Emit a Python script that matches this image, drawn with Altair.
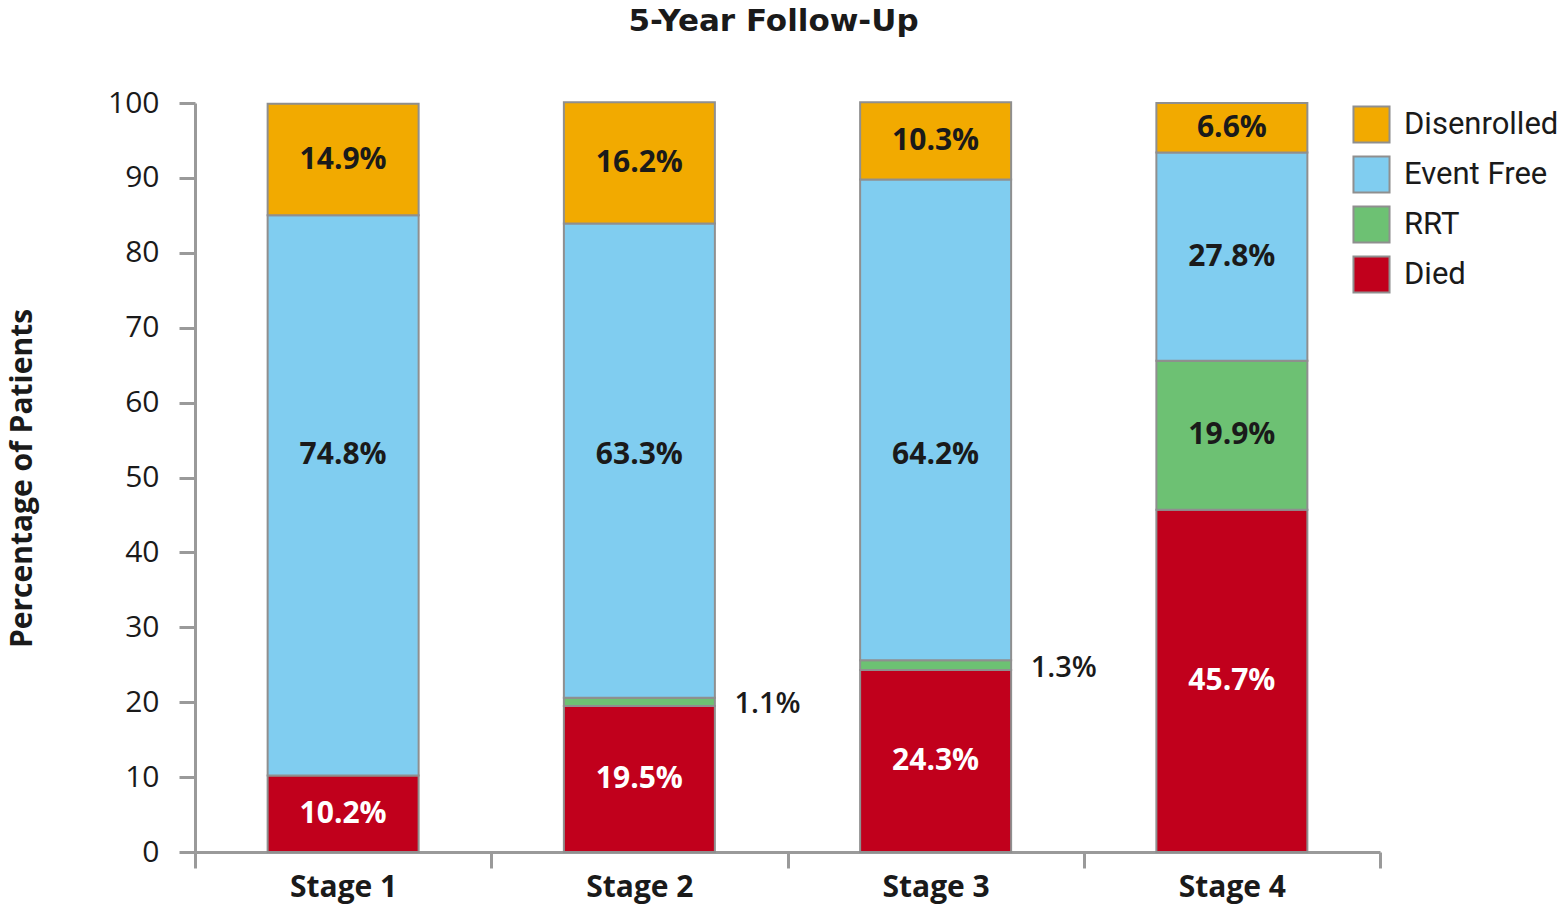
import altair as alt
import pandas as pd

# Stacked outcome shares per CKD stage at 5 years
stages = ["Stage 1", "Stage 2", "Stage 3", "Stage 4"]
outcomes = ["Disenrolled", "Event Free", "RRT", "Died"]
colors = ["#F2AA00", "#80CDF0", "#6DC173", "#C1001C"]

died = [10.2, 19.5, 24.3, 45.7]
rrt = [0.0, 1.1, 1.3, 19.9]
event_free = [74.8, 63.3, 64.2, 27.8]
disenrolled = [14.9, 16.2, 10.3, 6.6]

FONT = "Open Sans"
EVENT_FREE_LABEL_Y = 53  # tall event-free segments share a common label height

rows = []
for i, stage in enumerate(stages):
    base = 0.0
    for name, vals in [("Died", died), ("RRT", rrt), ("Event Free", event_free), ("Disenrolled", disenrolled)]:
        v = vals[i]
        if v <= 0:
            continue
        mid = base + v / 2
        if name == "Event Free" and base < EVENT_FREE_LABEL_Y < base + v:
            mid = EVENT_FREE_LABEL_Y
        rows.append({
            "stage": stage, "outcome": name, "value": v,
            "start": base, "end": base + v, "mid": mid,
            "label": f"{v:.1f}%", "small": v < 5,
            "light": name == "Died",
        })
        base += v
df = pd.DataFrame(rows)

x_enc = alt.X(
    "stage:N", sort=stages, title=None,
    scale=alt.Scale(paddingInner=0, paddingOuter=0),
    axis=alt.Axis(
        labelAngle=0, labelFont=FONT, labelFontSize=30, labelFontWeight="bold",
        labelColor="#1a1a1a", labelPadding=4, tickBand="extent", tickSize=16,
        tickColor="#9a9a9a", tickWidth=3, domainColor="#9a9a9a", domainWidth=3,
    ),
)

bars = alt.Chart(df).mark_bar(size=151, stroke="#8f8f8f", strokeWidth=2).encode(
    x=x_enc,
    y=alt.Y(
        "start:Q", scale=alt.Scale(domain=[0, 100], nice=False),
        title="Percentage of Patients",
        axis=alt.Axis(
            values=list(range(0, 101, 10)), grid=False,
            labelFont=FONT, labelFontSize=30, labelColor="#1a1a1a", labelPadding=20,
            tickSize=16, tickColor="#9a9a9a", tickWidth=3,
            domainColor="#9a9a9a", domainWidth=3,
            titleFont=FONT, titleFontSize=30, titleFontWeight="bold", titleColor="#1a1a1a",
            titleX=-173, titleY=375, titleAngle=270, titleAlign="center", titleBaseline="middle",
        ),
    ),
    y2="end:Q",
    color=alt.Color(
        "outcome:N",
        scale=alt.Scale(domain=outcomes, range=colors),
        legend=alt.Legend(
            title=None, orient="none", legendX=1157, legendY=2,
            symbolType="square", symbolSize=1300, symbolStrokeColor="#8f8f8f",
            symbolStrokeWidth=2, labelFont="Roboto", labelFontSize=31, labelColor="#1a1a1a",
            labelLimit=0, rowPadding=5, labelOffset=13,
        ),
    ),
)

inside = alt.Chart(df).transform_filter("!datum.small").mark_text(
    font=FONT, fontSize=30, fontWeight="bold", baseline="middle"
).encode(
    x=alt.X("stage:N", sort=stages),
    y=alt.Y("mid:Q"),
    text="label:N",
    color=alt.condition("datum.light", alt.value("white"), alt.value("#1a1a1a")),
)

outside = alt.Chart(df).transform_filter("datum.small").mark_text(
    font=FONT, fontSize=29, fontWeight=600, align="left", baseline="middle", dx=95, dy=-2,
    color="#1a1a1a",
).encode(
    x=alt.X("stage:N", sort=stages),
    y=alt.Y("start:Q"),
    text="label:N",
)

chart = alt.layer(bars, inside, outside).properties(
    width=1185, height=749,
    autosize=alt.AutoSizeParams(type="none"),
    padding={"left": 195, "top": 103, "right": 180, "bottom": 54},
    title=alt.TitleParams(
        "5-Year Follow-Up", font="DejaVu Sans", fontSize=31, fontWeight="bold",
        color="#1a1a1a", anchor="middle", offset=50, dx=-14,
    ),
).configure_view(stroke=None)

chart.save("out.html", embed_options={"renderer": "svg", "actions": False})
